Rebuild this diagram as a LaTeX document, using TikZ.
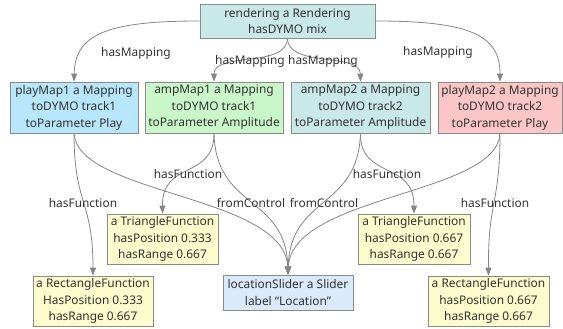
\documentclass[tikz,border=0pt]{standalone}
\usepackage{fontspec}
\setmainfont{Noto Sans}
\usetikzlibrary{arrows.meta}
\definecolor{bordergray}{HTML}{8A8A8A}
\definecolor{edgegray}{HTML}{858585}
\definecolor{txt}{HTML}{333333}
\definecolor{tealfill}{HTML}{C9E8E8}
\definecolor{bluefill}{HTML}{B8E6FB}
\definecolor{greenfill}{HTML}{C9F7C9}
\definecolor{pinkfill}{HTML}{FDC6C6}
\definecolor{yellowfill}{HTML}{FDFCCD}
\definecolor{sliderfill}{HTML}{DBEAFB}
\tikzset{
  box/.style={draw=bordergray, line width=0.8pt, text=txt, align=center, inner sep=0pt,
    font=\fontsize{11.9}{16.5}\selectfont},
  lbl/.style={text=txt, inner sep=0pt, font=\fontsize{11.9}{14}\selectfont},
  edge/.style={draw=edgegray, line width=0.8pt, -{Triangle[length=8pt,width=6pt]}},
}
\begin{document}
\begin{tikzpicture}[x=1pt,y=-1pt]
\useasboundingbox (0,0) rectangle (563,329);
% nodes
\node[box, fill=tealfill, minimum width=175pt, minimum height=34pt] (rend) at (287.5,21) {rendering a Rendering\\hasDYMO mix};
\node[box, fill=bluefill, minimum width=128pt, minimum height=51pt] (pm1) at (74,107.5) {playMap1 a Mapping\\toDYMO track1\\toParameter Play};
\node[box, fill=greenfill, minimum width=138pt, minimum height=51pt] (am1) at (214,107.5) {ampMap1 a Mapping\\toDYMO track1\\toParameter Amplitude};
\node[box, fill=tealfill, minimum width=139pt, minimum height=51pt] (am2) at (360.5,107.5) {ampMap2 a Mapping\\toDYMO track2\\toParameter Amplitude};
\node[box, fill=pinkfill, minimum width=124pt, minimum height=51pt] (pm2) at (500,107.5) {playMap2 a Mapping\\toDYMO track2\\toParameter Play};
\node[box, fill=yellowfill, minimum width=111pt, minimum height=50pt] (tri1) at (162.5,239) {a TriangleFunction\\hasPosition 0.333\\hasRange 0.667};
\node[box, fill=yellowfill, minimum width=120pt, minimum height=50pt] (rect1) at (93,301) {a RectangleFunction\\HasPosition 0.333\\hasRange 0.667};
\node[box, fill=sliderfill, minimum width=130pt, minimum height=35pt] (slider) at (288,292.5) {locationSlider a Slider\\label “Location”};
\node[box, fill=yellowfill, minimum width=112pt, minimum height=50pt] (tri2) at (414,239) {a TriangleFunction\\hasPosition 0.667\\hasRange 0.667};
\node[box, fill=yellowfill, minimum width=121pt, minimum height=50pt] (rect2) at (488.5,301) {a RectangleFunction\\hasPosition 0.667\\hasRange 0.667};
% edges
\draw[edge] (rend.west) .. controls (105,21) and (75,35) .. (pm1.north);
\draw[edge] (rend.south) .. controls (287,68) and (214,52) .. (am1.north);
\draw[edge] (rend.south) .. controls (288,68) and (360,52) .. (am2.north);
\draw[edge] (rend.east) .. controls (470,21) and (500,35) .. (pm2.north);
\draw[edge] (pm1.south) .. controls (74,205) and (93,200) .. (rect1.north);
\draw[edge] (pm1.south) .. controls (78,195) and (285,195) .. (slider.north);
\draw[edge] (am1.south) .. controls (214,180) and (162,160) .. (tri1.north);
\draw[edge] (am1.south) .. controls (216,210) and (286,195) .. (slider.north);
\draw[edge] (am2.south) .. controls (360,180) and (414,160) .. (tri2.north);
\draw[edge] (am2.south) .. controls (358,210) and (290,195) .. (slider.north);
\draw[edge] (pm2.south) .. controls (500,205) and (488,200) .. (rect2.north);
\draw[edge] (pm2.south) .. controls (497,195) and (292,195) .. (slider.north);
% labels
\node[lbl] (l1) at (136,53) {hasMapping};
\node[lbl] (l2) at (250,61) {hasMapping};
\node[lbl] (l3) at (323,61) {hasMapping};
\node[lbl] (l4) at (438,52) {hasMapping};
\node[lbl] (l5) at (83,203) {hasFunction};
\node[lbl] (l6) at (188,174) {hasFunction};
\node[lbl] (l7) at (251,203) {fromControl};
\node[lbl] (l8) at (324,203) {fromControl};
\node[lbl] (l9) at (387,174) {hasFunction};
\node[lbl] (l10) at (495,203) {hasFunction};
\end{tikzpicture}
\end{document}
